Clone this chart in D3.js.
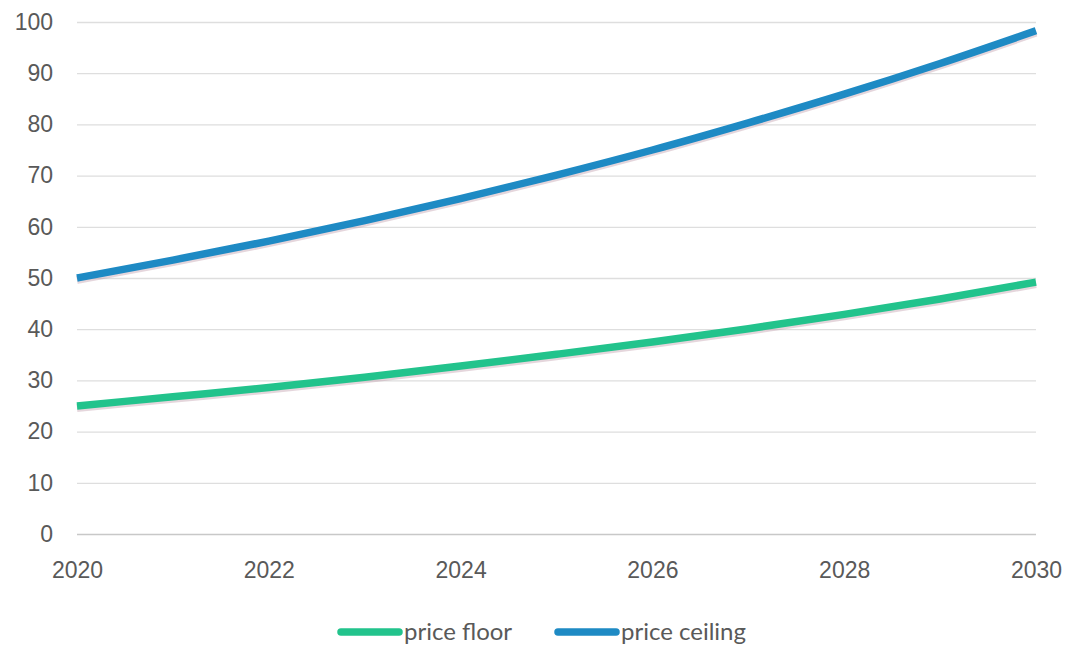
<!DOCTYPE html>
<html>
<head>
<meta charset="utf-8">
<script src="https://cdn.jsdelivr.net/npm/d3@7"></script>
<style>
  body { margin: 0; background: #fff; }
  svg { display: block; font-family: Lato, "Open Sans", sans-serif; }
</style>
</head>
<body>
<svg id="chart" width="1068" height="648"></svg>
<script>
const years = [2020, 2021, 2022, 2023, 2024, 2025, 2026, 2027, 2028, 2029, 2030];
const priceFloor = [25, 26.8, 28.6, 30.6, 32.8, 35.1, 37.5, 40.1, 42.9, 45.9, 49.2];
const priceCeiling = [50, 53.5, 57.2, 61.2, 65.5, 70.1, 75, 80.3, 85.9, 91.9, 98.3];
const yTicks = [0, 10, 20, 30, 40, 50, 60, 70, 80, 90, 100];
const xTicks = [2020, 2022, 2024, 2026, 2028, 2030];

const series = [
    { name: 'price floor', values: priceFloor, color: '#22c38c' },
    { name: 'price ceiling', values: priceCeiling, color: '#1e8ac4' }
];

const margin = { top: 22, left: 77, right: 32, bottom: 114 };
const width = 1068 - margin.left - margin.right;
const height = 648 - margin.top - margin.bottom;

const svg = d3.select('#chart');
const chart = svg.append('g')
    .attr('transform', `translate(${margin.left}, ${margin.top})`);

const xScale = d3.scaleLinear().domain([2020, 2030]).range([0, width]);
const yScale = d3.scaleLinear().domain([0, 100]).range([height, 0]);

// gridlines
chart.append('g')
    .call(d3.axisLeft(yScale).tickValues(yTicks).tickSize(-width).tickFormat(''))
    .call(g => g.select('.domain').remove())
    .call(g => g.selectAll('line').attr('stroke', d => d === 0 ? '#c8c8c8' : '#dedede').attr('stroke-width', 1.3));

// y labels
chart.append('g')
    .call(d3.axisLeft(yScale).tickValues(yTicks).tickSize(0).tickPadding(24))
    .call(g => g.select('.domain').remove())
    .call(g => g.selectAll('text').attr('fill', '#595959').style('font-size', '23px'));

// x labels
chart.append('g')
    .attr('transform', `translate(0, ${height})`)
    .call(d3.axisBottom(xScale).tickValues(xTicks).tickSize(0).tickPadding(28).tickFormat(d3.format('d')))
    .call(g => g.select('.domain').remove())
    .call(g => g.selectAll('text').attr('fill', '#595959').style('font-size', '23px'));

const line = d3.line()
    .x((d, i) => xScale(years[i]))
    .y(d => yScale(d))
    .curve(d3.curveMonotoneX);

// soft shadow under lines
series.forEach(s => {
    chart.append('path')
        .datum(s.values)
        .attr('fill', 'none')
        .attr('stroke', '#b58a9a')
        .attr('stroke-opacity', 0.35)
        .attr('stroke-width', 8)
        .attr('transform', 'translate(0, 2)')
        .attr('d', line);
    chart.append('path')
        .datum(s.values)
        .attr('fill', 'none')
        .attr('stroke', s.color)
        .attr('stroke-width', 7.5)
        .attr('d', line);
});

// legend
const legend = svg.append('g').attr('transform', 'translate(0, 632)');
const legendX = [338, 555];
series.forEach((s, i) => {
    const g = legend.append('g').attr('transform', `translate(${legendX[i]}, 0)`);
    g.append('line')
        .attr('x1', 3).attr('x2', 61)
        .attr('stroke', s.color)
        .attr('stroke-width', 7.5)
        .attr('stroke-linecap', 'round');
    g.append('text')
        .attr('x', 66)
        .attr('dy', '0.35em')
        .attr('fill', '#595959')
        .style('font-size', '24px')
        .text(s.name);
});
</script>
</body>
</html>
